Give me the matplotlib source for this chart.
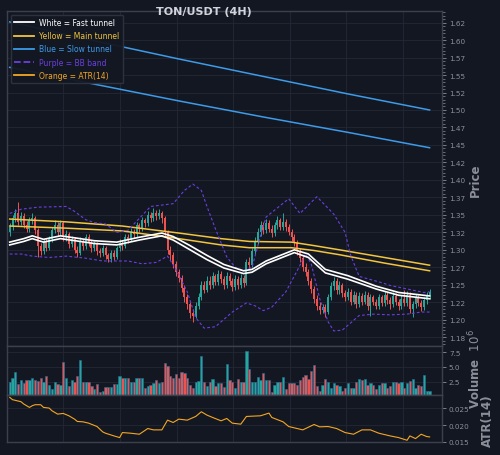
import numpy as np
import matplotlib
matplotlib.use('Agg')
import matplotlib.pyplot as plt
from matplotlib.lines import Line2D
from matplotlib.ticker import AutoMinorLocator, FuncFormatter, FixedLocator, FixedFormatter

# ---- data (4H candles) ----
first_open = 1.325
closes = [
    1.332, 1.345, 1.352, 1.340, 1.348, 1.336, 1.330, 1.342, 1.345, 1.328,
    1.305, 1.298, 1.312, 1.303, 1.315, 1.328, 1.336, 1.325, 1.338, 1.318,
    1.322, 1.308, 1.315, 1.300, 1.296, 1.312, 1.305, 1.318, 1.310, 1.302,
    1.308, 1.298, 1.295, 1.302, 1.292, 1.287, 1.296, 1.290, 1.302, 1.310,
    1.305, 1.318, 1.315, 1.326, 1.322, 1.335, 1.330, 1.342, 1.338, 1.350,
    1.345, 1.353, 1.348, 1.352, 1.345, 1.325, 1.300, 1.292, 1.280, 1.268,
    1.260, 1.245, 1.232, 1.222, 1.210, 1.205, 1.220, 1.232, 1.250, 1.243,
    1.256, 1.249, 1.262, 1.254, 1.265, 1.258, 1.250, 1.262, 1.255, 1.247,
    1.258, 1.250, 1.260, 1.252, 1.282, 1.278, 1.298, 1.312, 1.325, 1.335,
    1.328, 1.338, 1.330, 1.324, 1.335, 1.342, 1.333, 1.340, 1.332, 1.326,
    1.318, 1.310, 1.298, 1.288, 1.276, 1.268, 1.255, 1.244, 1.230, 1.220,
    1.214, 1.218, 1.211, 1.232, 1.248, 1.255, 1.242, 1.250, 1.238, 1.232,
    1.240, 1.226, 1.236, 1.222, 1.234, 1.226, 1.236, 1.220, 1.232, 1.226,
    1.220, 1.232, 1.224, 1.236, 1.228, 1.222, 1.234, 1.226, 1.220, 1.230,
    1.224, 1.236, 1.215, 1.222, 1.232, 1.224, 1.218, 1.228, 1.234, 1.240,
]
highs = [
    1.338, 1.350, 1.358, 1.368, 1.354, 1.352, 1.341, 1.347, 1.352, 1.349,
    1.331, 1.310, 1.316, 1.317, 1.320, 1.333, 1.342, 1.340, 1.343, 1.341,
    1.328, 1.326, 1.320, 1.318, 1.306, 1.318, 1.316, 1.323, 1.322, 1.314,
    1.313, 1.311, 1.303, 1.307, 1.305, 1.296, 1.300, 1.300, 1.306, 1.315,
    1.314, 1.322, 1.323, 1.331, 1.330, 1.340, 1.339, 1.347, 1.346, 1.355,
    1.354, 1.360, 1.357, 1.358, 1.356, 1.348, 1.328, 1.306, 1.297, 1.284,
    1.273, 1.264, 1.250, 1.237, 1.226, 1.215, 1.225, 1.238, 1.256, 1.255,
    1.262, 1.262, 1.268, 1.266, 1.271, 1.270, 1.262, 1.268, 1.267, 1.259,
    1.264, 1.262, 1.266, 1.264, 1.287, 1.290, 1.303, 1.318, 1.331, 1.341,
    1.340, 1.344, 1.342, 1.335, 1.340, 1.348, 1.346, 1.352, 1.344, 1.337,
    1.330, 1.322, 1.314, 1.302, 1.292, 1.281, 1.272, 1.259, 1.248, 1.235,
    1.225, 1.223, 1.222, 1.237, 1.254, 1.261, 1.259, 1.256, 1.253, 1.243,
    1.246, 1.244, 1.241, 1.240, 1.239, 1.238, 1.241, 1.239, 1.237, 1.236,
    1.230, 1.237, 1.236, 1.241, 1.240, 1.232, 1.239, 1.238, 1.230, 1.235,
    1.242, 1.241, 1.240, 1.227, 1.237, 1.236, 1.228, 1.233, 1.239, 1.244,
]
lows = [
    1.320, 1.328, 1.340, 1.336, 1.335, 1.331, 1.325, 1.326, 1.337, 1.322,
    1.290, 1.292, 1.294, 1.298, 1.300, 1.311, 1.324, 1.320, 1.321, 1.312,
    1.313, 1.303, 1.304, 1.295, 1.290, 1.292, 1.300, 1.301, 1.305, 1.297,
    1.298, 1.293, 1.290, 1.291, 1.287, 1.282, 1.283, 1.285, 1.287, 1.298,
    1.300, 1.302, 1.310, 1.312, 1.317, 1.319, 1.325, 1.327, 1.333, 1.334,
    1.340, 1.341, 1.343, 1.344, 1.338, 1.320, 1.294, 1.285, 1.274, 1.262,
    1.254, 1.240, 1.226, 1.216, 1.202, 1.197, 1.202, 1.216, 1.228, 1.238,
    1.240, 1.244, 1.245, 1.249, 1.250, 1.252, 1.244, 1.246, 1.249, 1.241,
    1.243, 1.244, 1.246, 1.247, 1.249, 1.272, 1.275, 1.294, 1.308, 1.320,
    1.322, 1.324, 1.325, 1.318, 1.320, 1.330, 1.328, 1.329, 1.327, 1.321,
    1.313, 1.305, 1.293, 1.282, 1.270, 1.262, 1.249, 1.238, 1.224, 1.214,
    1.208, 1.209, 1.204, 1.208, 1.228, 1.243, 1.237, 1.237, 1.233, 1.227,
    1.228, 1.221, 1.222, 1.217, 1.218, 1.221, 1.222, 1.214, 1.206, 1.221,
    1.215, 1.216, 1.219, 1.220, 1.223, 1.216, 1.218, 1.221, 1.214, 1.216,
    1.219, 1.220, 1.209, 1.204, 1.217, 1.219, 1.212, 1.214, 1.223, 1.229,
]
volume_m = [
    2.4, 3.1, 4.1, 2.1, 2.8, 2.2, 2.8, 2.8, 3.1, 2.8,
    2.6, 3.1, 2.4, 3.5, 1.9, 1.3, 2.4, 2.1, 1.9, 5.9,
    3.1, 1.7, 2.8, 2.4, 3.5, 6.2, 2.4, 2.4, 2.5, 1.7,
    1.3, 2.1, 0.8, 1.0, 1.6, 1.6, 1.6, 2.1, 2.1, 3.5,
    3.2, 3.1, 3.2, 2.4, 2.4, 3.2, 3.1, 3.1, 1.5, 1.7,
    1.9, 2.2, 2.8, 2.2, 2.5, 5.6, 5.2, 3.5, 3.2, 3.8,
    3.2, 4.1, 4.0, 3.2, 2.0, 1.5, 2.4, 2.6, 6.9, 2.4,
    1.7, 2.5, 3.0, 1.7, 2.2, 2.3, 1.6, 5.5, 2.8, 2.5,
    1.4, 3.0, 2.4, 2.4, 7.7, 4.6, 2.4, 2.4, 3.3, 2.8,
    3.9, 2.8, 2.7, 0.8, 1.9, 2.4, 2.4, 3.3, 1.3, 2.2,
    2.2, 2.2, 2.0, 2.8, 3.3, 3.7, 2.9, 4.3, 5.3, 1.8,
    0.9, 2.0, 2.9, 2.4, 1.5, 2.2, 2.0, 1.8, 1.0, 1.5,
    2.2, 1.5, 1.5, 2.4, 3.0, 2.8, 3.0, 2.0, 2.2, 2.0,
    1.3, 2.0, 2.3, 2.2, 1.5, 1.8, 2.4, 2.4, 2.2, 2.4,
    1.4, 2.3, 2.6, 2.9, 1.5, 2.0, 1.8, 3.7, 1.0, 1.0,
]

# indicator lines (candle index, value)
white_x = [0, 5, 8, 12, 18, 25, 30, 38, 46, 54, 58, 64, 70, 76, 83, 86, 91, 101, 106, 112, 120, 130, 138, 149]
white_hi = [1.311, 1.316, 1.320, 1.315, 1.320, 1.316, 1.313, 1.311, 1.318, 1.324, 1.319, 1.306,
            1.292, 1.279, 1.270, 1.272, 1.284, 1.300, 1.294, 1.272, 1.263, 1.248, 1.239, 1.234]
white_lo = [1.307, 1.312, 1.316, 1.311, 1.316, 1.312, 1.309, 1.307, 1.314, 1.320, 1.314, 1.300,
            1.286, 1.274, 1.266, 1.268, 1.280, 1.296, 1.289, 1.267, 1.258, 1.244, 1.235, 1.230]
yellow_x = [0, 20, 40, 60, 75, 85, 100, 108, 117, 133, 149]
yellow_hi = [1.344, 1.340, 1.334, 1.324, 1.316, 1.312, 1.311, 1.306, 1.300, 1.289, 1.278]
yellow_lo = [1.334, 1.331, 1.327, 1.316, 1.307, 1.303, 1.303, 1.299, 1.293, 1.281, 1.270]
blue_x = [0, 30, 60, 90, 120, 149]
blue_hi = [1.626, 1.599, 1.573, 1.548, 1.523, 1.500]
blue_lo = [1.561, 1.537, 1.513, 1.490, 1.468, 1.446]
bbu_x = [0, 4, 10, 20, 23, 27, 30, 34, 38, 42, 46, 50, 54, 58, 62, 65, 68, 70, 73, 77, 80, 83, 86,
         89, 91, 99, 103, 109, 115, 119, 121, 124, 132, 135, 141, 147, 149]
bbu = [1.352, 1.358, 1.361, 1.362, 1.355, 1.343, 1.339, 1.337, 1.325, 1.328, 1.345, 1.362, 1.364,
       1.366, 1.385, 1.394, 1.385, 1.362, 1.330, 1.290, 1.275, 1.270, 1.275, 1.320, 1.347, 1.373,
       1.352, 1.376, 1.351, 1.325, 1.292, 1.262, 1.253, 1.249, 1.244, 1.239, 1.240]
bbl_x = [0, 4, 8, 14, 20, 27, 33, 42, 47, 52, 56, 59, 63, 66, 69, 73, 79, 84, 87, 90, 93, 98,
         102, 105, 107, 110, 113, 115, 118, 120, 124, 129, 135, 141, 146, 149]
bbl = [1.294, 1.294, 1.291, 1.289, 1.291, 1.288, 1.284, 1.284, 1.280, 1.282, 1.291, 1.272, 1.240,
       1.203, 1.188, 1.190, 1.211, 1.224, 1.220, 1.213, 1.218, 1.240, 1.270, 1.294, 1.280, 1.230,
       1.197, 1.184, 1.185, 1.192, 1.206, 1.208, 1.207, 1.208, 1.211, 1.211]
atr_x = [0, 1, 4, 5, 7, 8, 9, 11, 12, 14, 15, 17, 19, 21, 23, 24, 26, 28, 31, 33, 34, 37, 39, 40,
         43, 46, 49, 51, 54, 56, 58, 60, 63, 66, 68, 70, 72, 75, 77, 79, 82, 84, 89, 92, 93, 97,
         99, 102, 104, 108, 110, 113, 116, 119, 122, 125, 128, 131, 135, 138, 141, 142, 144, 146,
         148, 149]
atr = [0.0283, 0.0276, 0.0270, 0.0263, 0.0253, 0.0258, 0.0261, 0.0261, 0.0253, 0.0251, 0.0243,
       0.0233, 0.0235, 0.0228, 0.0218, 0.0211, 0.0210, 0.0206, 0.0196, 0.0180, 0.0176, 0.0168,
       0.0163, 0.0178, 0.0176, 0.0173, 0.0190, 0.0186, 0.0186, 0.0215, 0.0208, 0.0218, 0.0215,
       0.0226, 0.0240, 0.0230, 0.0223, 0.0213, 0.0220, 0.0206, 0.0203, 0.0226, 0.0228, 0.0236,
       0.0223, 0.0210, 0.0196, 0.0190, 0.0186, 0.0202, 0.0195, 0.0196, 0.0190, 0.0178, 0.0173,
       0.0186, 0.0186, 0.0176, 0.0168, 0.0163, 0.0155, 0.0168, 0.0160, 0.0173, 0.0166, 0.0165]
price_ticks = [1.175, 1.2, 1.225, 1.25, 1.275, 1.3, 1.325, 1.35, 1.375, 1.4,
               1.425, 1.45, 1.475, 1.5, 1.525, 1.55, 1.575, 1.6, 1.625]
price_labels = ['1.18', '1.20', '1.22', '1.25', '1.27', '1.30', '1.32', '1.35', '1.37', '1.40',
                '1.42', '1.45', '1.47', '1.50', '1.52', '1.55', '1.57', '1.60', '1.62']

# ---- style ----
BG = '#131722'
GRID = '#232835'
SPINE = '#3b404c'
TXT = '#8c8f98'
UP = '#26a69a'
DOWN = '#ef5350'
WHITE = '#ffffff'
YELLOW = '#f2c53d'
BLUE = '#3d9be9'
PURPLE = '#6a3fe0'
ORANGE = '#f5a623'

n = len(closes)
idx = np.arange(n)
opens = [first_open] + closes[:-1]
up = np.array(closes) >= np.array(opens)
cols = np.where(up, UP, DOWN)

fig = plt.figure(figsize=(5, 4.56), dpi=100, facecolor=BG)
ax = fig.add_axes([0.014, 0.2384, 0.87, 0.7359])
axv = fig.add_axes([0.014, 0.1316, 0.87, 0.1068], sharex=ax)
axa = fig.add_axes([0.014, 0.0279, 0.87, 0.1037], sharex=ax)

for a in (ax, axv, axa):
    a.set_facecolor(BG)
    for s in a.spines.values():
        s.set_color(SPINE)
        s.set_linewidth(1.0)
    a.yaxis.tick_right()
    a.tick_params(axis='y', colors=TXT, labelsize=5.2, length=3, width=0.6, pad=2)
    a.tick_params(axis='x', length=0, labelbottom=False)
    a.grid(True, color=GRID, linewidth=0.6)
    a.set_axisbelow(True)

# candles
lo_body = np.minimum(opens, closes)
body = np.maximum(np.abs(np.array(closes) - np.array(opens)), 0.0008)
ax.vlines(idx, lows, highs, colors=cols, linewidth=0.7, zorder=2)
ax.bar(idx, body, bottom=lo_body, width=0.7, color=cols, linewidth=0, zorder=3)

# tunnels and bands
ax.plot(blue_x, blue_hi, color=BLUE, lw=1.1, zorder=4)
ax.plot(blue_x, blue_lo, color=BLUE, lw=1.1, zorder=4)
ax.plot(yellow_x, yellow_hi, color=YELLOW, lw=1.1, zorder=4)
ax.plot(yellow_x, yellow_lo, color=YELLOW, lw=1.1, zorder=4)
ax.plot(bbu_x, bbu, color=PURPLE, lw=0.8, ls=(0, (2.5, 2)), zorder=4)
ax.plot(bbl_x, bbl, color=PURPLE, lw=0.8, ls=(0, (2.5, 2)), zorder=4)
ax.plot(white_x, white_hi, color=WHITE, lw=1.2, zorder=5)
ax.plot(white_x, white_lo, color=WHITE, lw=1.2, zorder=5)

ax.set_xlim(-0.96, 153.4)
ax.set_ylim(1.162, 1.642)
ax.yaxis.set_major_locator(FixedLocator(price_ticks))
ax.yaxis.set_major_formatter(FixedFormatter(price_labels))
ax.yaxis.set_minor_locator(AutoMinorLocator(5))
ax.tick_params(axis='y', which='minor', colors=TXT, length=1.8, width=0.5)
ax.xaxis.set_major_locator(FixedLocator(np.arange(19, n, 20.1)))

# volume
axv.bar(idx, volume_m, width=0.8, color=cols, edgecolor='#2a6e9a', linewidth=0.4)
axv.set_ylim(0.24, 8.5)
axv.set_yticks([2.5, 5.0, 7.5])
axv.yaxis.set_major_formatter(FuncFormatter(lambda v, p: f'{v:.1f}'))

# ATR
axa.plot(atr_x, atr, color=ORANGE, lw=0.8)
axa.set_ylim(0.0149, 0.0290)
axa.set_yticks([0.015, 0.020, 0.025])
axa.yaxis.set_major_formatter(FuncFormatter(lambda v, p: f'{v:.3f}'))

# legend
handles = [Line2D([], [], color=WHITE, lw=1.3),
           Line2D([], [], color=YELLOW, lw=1.3),
           Line2D([], [], color=BLUE, lw=1.3),
           Line2D([], [], color=PURPLE, lw=1.3, ls='--'),
           Line2D([], [], color=ORANGE, lw=1.3)]
labels = ['White = Fast tunnel', 'Yellow = Main tunnel', 'Blue = Slow tunnel',
          'Purple = BB band', 'Orange = ATR(14)']
leg = ax.legend(handles, labels, loc='upper left', fontsize=5.5, frameon=True,
                facecolor=BG, edgecolor='#2e3340', framealpha=0.95,
                handlelength=2.6, borderaxespad=0.5, labelspacing=0.55,
                handletextpad=0.7, borderpad=0.45)
for t, c in zip(leg.get_texts(), [WHITE, YELLOW, BLUE, PURPLE, ORANGE]):
    t.set_color(c)
leg.set_zorder(10)

# titles / labels
fig.text(0.408, 1 - 12 / 456, 'TON/USDT (4H)', ha='center', va='center',
         fontsize=8, fontweight='bold', color='#d1d4dc')
fig.text(0.95, 1 - 180 / 456, 'Price', rotation=90, ha='center', va='center',
         fontsize=8.5, fontweight='bold', color=TXT)
fig.text(0.95, 1 - 369 / 456, 'Volume  $10^{6}$', rotation=90, ha='center', va='center',
         fontsize=8.5, fontweight='bold', color=TXT)
fig.text(0.974, 1 - 421 / 456, 'ATR(14)', rotation=90, ha='center', va='center',
         fontsize=8.5, fontweight='bold', color=TXT)

fig.savefig('out.png', dpi=100, facecolor=BG)
